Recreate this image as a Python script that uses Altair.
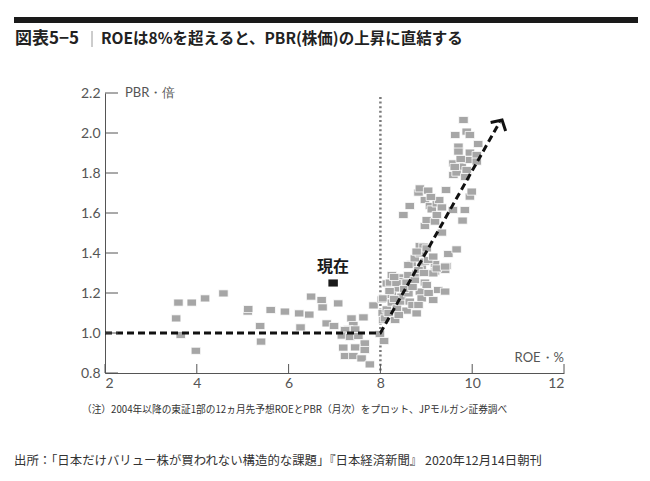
import altair as alt
import pandas as pd

# ---------------- data ----------------
roe = [3.55, 3.60, 3.89, 3.65, 3.98, 4.18, 4.58, 5.11, 5.12, 5.38, 5.40, 5.61, 5.92, 6.23, 6.26,
       6.45, 6.49, 6.72, 6.74, 6.83, 6.99, 7.08, 7.37, 7.63, 7.41, 7.30, 7.45, 7.23, 7.16, 7.34,
       7.52, 7.66, 7.19, 7.45, 7.66, 7.23, 7.41, 7.59, 7.77, 7.85, 8.03, 7.99, 8.08, 8.05, 8.06,
       # lower cluster right of 8
       8.06, 8.10, 8.14, 8.14, 8.21, 8.25, 8.25, 8.25, 8.32, 8.36, 8.39, 8.43, 8.43, 8.46, 8.50,
       8.57, 8.57, 8.61, 8.61, 8.64, 8.68, 8.75, 8.79, 8.79, 8.86, 8.90, 8.90, 8.97, 9.01, 9.15,
       9.19, 9.19, 9.26, 9.41, 9.41, 9.44, 8.20, 8.30, 8.35, 8.52, 8.70, 8.70, 8.83, 9.05, 8.30,
       8.18, 8.40,
       # middle
       8.61, 8.75, 8.83, 8.86, 8.86, 8.94, 8.97, 9.01, 9.04, 9.15, 9.15, 9.23, 9.41, 9.48, 9.66,
       8.79, 8.95,
       # upper
       8.50, 8.64, 8.83, 8.86, 8.97, 8.97, 9.01, 9.04, 9.08, 9.12, 9.19, 9.23, 9.23, 9.34, 9.34,
       9.43, 9.58, 9.84, 9.79, 9.95, 9.99, 9.28, 9.10,
       # top
       9.59, 9.59, 9.63, 9.66, 9.70, 9.70, 9.77, 9.81, 9.88, 9.88, 9.92, 9.95, 9.95, 10.10, 10.10,
       10.13, 9.62, 9.75, 9.85]
pbr = [1.073, 1.152, 1.152, 0.990, 0.911, 1.173, 1.198, 1.107, 1.120, 1.035, 0.957, 1.115, 1.107, 1.098, 1.028,
       1.092, 1.182, 1.165, 1.128, 1.048, 1.035, 1.148, 1.073, 1.078, 1.040, 1.020, 1.018, 1.015, 0.987, 0.980,
       0.985, 0.948, 0.927, 0.928, 0.915, 0.885, 0.885, 0.873, 0.843, 1.138, 1.168, 0.995, 0.960, 1.100, 1.065,
       1.173, 1.073, 1.118, 1.248, 1.252, 1.290, 1.190, 1.152, 1.065, 1.123, 1.223, 1.278, 1.157, 1.182, 1.260,
       1.252, 1.112, 1.290, 1.198, 1.157, 1.345, 1.265, 1.298, 1.098, 1.207, 1.332, 1.173, 1.252, 1.240, 1.165,
       1.307, 1.345, 1.215, 1.315, 1.207, 1.335, 1.210, 1.170, 1.250, 1.220, 1.230, 1.140, 1.140, 1.200, 1.280,
       1.100, 1.090,
       1.340, 1.373, 1.315, 1.398, 1.435, 1.432, 1.357, 1.423, 1.365, 1.382, 1.298, 1.323, 1.332, 1.395, 1.418,
       1.407, 1.300,
       1.590, 1.635, 1.702, 1.723, 1.665, 1.535, 1.565, 1.712, 1.635, 1.618, 1.557, 1.648, 1.590, 1.628, 1.502,
       1.715, 1.615, 1.615, 1.562, 1.682, 1.707, 1.665, 1.680,
       1.790, 1.848, 1.990, 1.802, 1.932, 1.907, 1.832, 2.065, 2.007, 1.815, 1.865, 1.990, 1.902, 1.890, 1.857,
       1.945, 1.830, 1.870, 1.780]

current_roe = [6.97]
current_pbr = [1.25]

trend_roe = [2.0, 8.0, 10.6]
trend_pbr = [1.0, 1.0, 2.055]
arrow_roe = [10.65]
arrow_pbr = [2.065]

x_ticks = [2, 4, 6, 8, 10, 12]
y_ticks = [0.8, 1.0, 1.2, 1.4, 1.6, 1.8, 2.0, 2.2]

title_left = "図表5−5"
title_right = "ROEは8%を超えると、PBR(株価)の上昇に直結する"
y_title = "PBR・倍"
x_title = "ROE・%"
current_label = "現在"
note_text = "（注）2004年以降の東証1部の12ヵ月先予想ROEとPBR（月次）をプロット、JPモルガン証券調べ"
source_text = "出所：「日本だけバリュー株が買われない構造的な課題」『日本経済新聞』 2020年12月14日朝刊"

# ---------------- chart ----------------
W, H = 459, 280
JP = "Noto Sans CJK JP"
LAT = "Lato"
GRAY = "#555555"

xs = alt.Scale(domain=[2, 12], nice=False, zero=False)
ys = alt.Scale(domain=[0.8, 2.2], nice=False, zero=False)

x_axis = alt.Axis(
    values=x_ticks, ticks=False, grid=False, title=None, domainColor=GRAY,
    labelColor=GRAY, labelFont=LAT, labelFontSize=14, labelPadding=3)
y_axis = alt.Axis(
    values=y_ticks, format=".1f", ticks=False, grid=False, title=None, domainColor=GRAY,
    labelColor=GRAY, labelFont=LAT, labelFontSize=14, labelPadding=5)


def X(field):
    return alt.X(field, scale=xs, axis=x_axis)


def Y(field):
    return alt.Y(field, scale=ys, axis=y_axis)


rect_shape = "M-1,-0.75L1,-0.75L1,0.75L-1,0.75Z"
chevron = "M-1,0.9L0,0L1,0.9"

pts = pd.DataFrame({"roe": roe, "pbr": pbr})
one = pd.DataFrame({"k": [0]})

vline = alt.Chart(pd.DataFrame({"roe": [8.0], "pbr": [2.18], "pbr2": [0.8]})).mark_rule(
    color="#7a7a7a", strokeWidth=2.5, strokeDash=[2, 2.6]
).encode(x=X("roe:Q"), y=Y("pbr:Q"), y2="pbr2:Q")

points = alt.Chart(pts).mark_point(
    shape=rect_shape, filled=True, fill="#a6a6a6", stroke="white", strokeWidth=0.8,
    size=90, opacity=1
).encode(x=X("roe:Q"), y=Y("pbr:Q"))

trend = alt.Chart(pd.DataFrame({"roe": trend_roe, "pbr": trend_pbr, "o": [0, 1, 2]})).mark_line(
    color="#111111", strokeWidth=3, strokeDash=[7, 4]
).encode(x=X("roe:Q"), y=Y("pbr:Q"), order="o:Q")

arrow = alt.Chart(pd.DataFrame({"roe": arrow_roe, "pbr": arrow_pbr})).mark_point(
    shape=chevron, filled=False, stroke="#111111", strokeWidth=3, size=300, angle=30, opacity=1
).encode(x=X("roe:Q"), y=Y("pbr:Q"))

cur = pd.DataFrame({"roe": current_roe, "pbr": current_pbr, "label": [current_label]})
cur_pt = alt.Chart(cur).mark_point(
    shape=rect_shape, filled=True, fill="#1a1a1a", size=90, opacity=1
).encode(x=X("roe:Q"), y=Y("pbr:Q"))
cur_txt = alt.Chart(cur).mark_text(
    font=JP, fontSize=16, fontWeight="bold", color="#1a1a1a", dy=-16, baseline="middle"
).encode(x=X("roe:Q"), y=Y("pbr:Q"), text="label:N")

ytick = alt.Chart(pd.DataFrame({"pbr": y_ticks})).mark_rule(color=GRAY, strokeWidth=1).encode(
    y=Y("pbr:Q"), x=alt.value(0), x2=alt.value(13),
)
xtick = alt.Chart(pd.DataFrame({"roe": x_ticks})).mark_rule(color=GRAY, strokeWidth=1).encode(
    x=X("roe:Q"), y=alt.value(H), y2=alt.value(H - 9),
)


def label(text, x, y, size, color, weight="normal", font=JP, align="left"):
    return alt.Chart(one).mark_text(
        text=text, font=font, fontSize=size, color=color, fontWeight=weight,
        align=align, baseline="middle"
    ).encode(x=alt.value(x), y=alt.value(y))


top_bar = alt.Chart(one).mark_rule(color="#1a1a1a", strokeWidth=6).encode(
    x=alt.value(-91), x2=alt.value(533), y=alt.value(-73)
)
sep = alt.Chart(one).mark_rule(color="#9a9a9a", strokeWidth=1).encode(
    x=alt.value(-13), y=alt.value(-62), y2=alt.value(-46)
)

texts = [
    label(title_left, -90, -54, 17, "#222222", "bold"),
    label(title_right, -4, -54, 15.5, "#222222", "bold"),
    label(y_title, 20, 0, 13, GRAY, font=LAT),
    label(x_title, W, 265, 13, GRAY, font=LAT, align="right"),
    label(note_text, -23, 317, 9.7, "#333333"),
    label(source_text, -91, 368, 12.4, "#333333"),
]

chart = alt.layer(
    vline, points, trend, arrow, cur_pt, cur_txt, ytick, xtick, top_bar, sep, *texts
).properties(
    width=W, height=H,
    autosize=alt.AutoSizeParams(type="none"),
    padding={"left": 105, "top": 93, "right": 86, "bottom": 108},
    background="white",
).configure_view(stroke=None)

chart.save("out.html", embed_options={"renderer": "svg", "actions": False})
